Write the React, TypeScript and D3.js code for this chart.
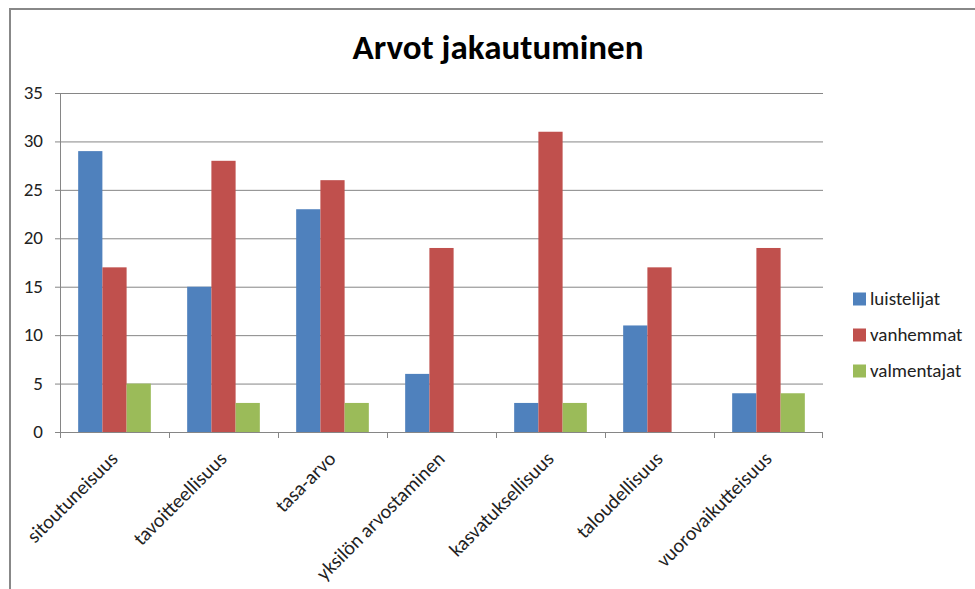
import React from "react";
import * as d3 from "d3";

const categories = ["sitoutuneisuus", "tavoitteellisuus", "tasa-arvo", "yksilön arvostaminen", "kasvatuksellisuus", "taloudellisuus", "vuorovaikutteisuus"];
const seriesNames = ["luistelijat", "vanhemmat", "valmentajat"];
const luistelijat = [29, 15, 23, 6, 3, 11, 4];
const vanhemmat = [17, 28, 26, 19, 31, 17, 19];
const valmentajat = [5, 3, 3, 0, 3, 0, 4];
const yTicks = [0, 5, 10, 15, 20, 25, 30, 35];
const colors = ["#4F81BD", "#C0504D", "#9BBB59"];
const title = "Arvot jakautuminen";

const FONT = "Carlito, Calibri, 'Open Sans', sans-serif";

export default function App() {
  const W = 975, H = 589;
  const left = 60, right = 823, top = 93, bottom = 432;
  const series = [luistelijat, vanhemmat, valmentajat];
  const x = d3.scaleBand<string>().domain(categories).range([left, right]).paddingInner(0).paddingOuter(0);
  const bw = x.bandwidth() / 4.5;
  const y = d3.scaleLinear().domain([0, 35]).range([bottom, top]);

  return (
    <svg width={W} height={H} style={{ position: "absolute", left: 0, top: 0, background: "#fff" }}>
      <rect x={0} y={0} width={W} height={H} fill="#fff" />
      <path d={`M10,${H + 5} L10,9 L${W + 5},9`} fill="none" stroke="#888" strokeWidth={2} />
      <text x={498} y={59} textAnchor="middle" fontFamily={FONT} fontWeight="bold" fontSize={35} fill="#000">{title}</text>
      {yTicks.map((t) => (
        <g key={t}>
          {t > 0 && <line x1={left} x2={right} y1={y(t) + 0.5} y2={y(t) + 0.5} stroke="#868686" strokeWidth={1} />}
          <line x1={left - 5} x2={left} y1={y(t) + 0.5} y2={y(t) + 0.5} stroke="#868686" />
          <text x={43} y={y(t) + 6} textAnchor="end" fontFamily={FONT} fontSize={19} fill="#222">{t}</text>
        </g>
      ))}
      {categories.map((c, i) =>
        series.map((s, j) => {
          const x0 = (x(c) as number) + 0.75 * bw + j * bw;
          return s[i] > 0 ? (
            <rect key={`${i}-${j}`} x={x0} y={y(s[i])} width={bw} height={bottom - y(s[i])} fill={colors[j]} />
          ) : null;
        })
      )}
      <line x1={left + 0.5} x2={left + 0.5} y1={top} y2={bottom} stroke="#868686" />
      <line x1={left} x2={right} y1={bottom + 0.5} y2={bottom + 0.5} stroke="#868686" />
      {categories.map((c, i) => (
        <line key={"t" + i} x1={(x(c) as number) + 0.5} x2={(x(c) as number) + 0.5} y1={bottom} y2={bottom + 6} stroke="#868686" />
      ))}
      <line x1={right - 0.5} x2={right - 0.5} y1={bottom} y2={bottom + 6} stroke="#868686" />
      {categories.map((c, i) => {
        const cx = (x(c) as number) + x.bandwidth() / 2 + 4.5;
        const cy = 460;
        return (
          <text key={"l" + i} transform={`translate(${cx},${cy}) rotate(-45)`} textAnchor="end" fontFamily={FONT} fontSize={20} fill="#222">{c}</text>
        );
      })}
      {seriesNames.map((n, j) => (
        <g key={n} transform={`translate(853,${299 + j * 36})`}>
          <rect x={0} y={-6.5} width={13} height={13} fill={colors[j]} />
          <text x={17} y={6} fontFamily={FONT} fontSize={19} fill="#222">{n}</text>
        </g>
      ))}
    </svg>
  );
}
